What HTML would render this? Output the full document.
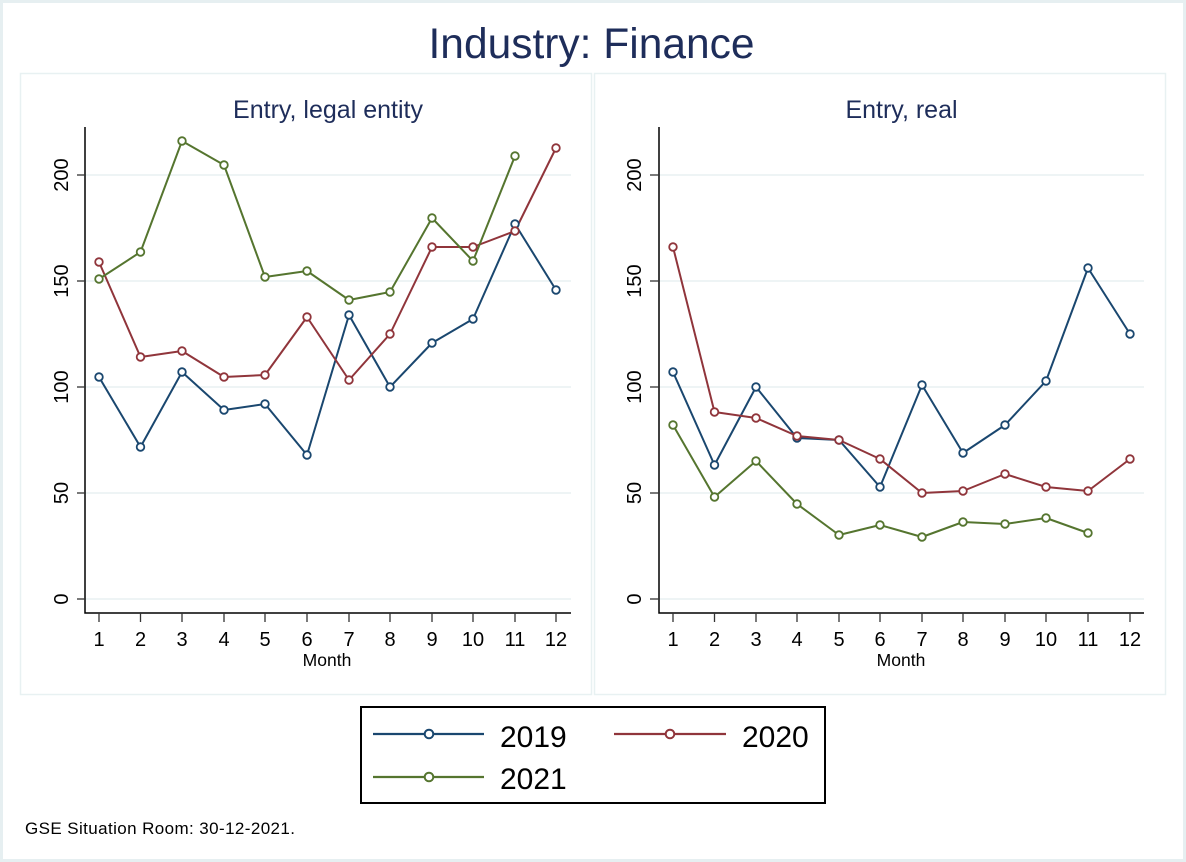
<!DOCTYPE html>
<html><head><meta charset="utf-8"><style>
html,body{margin:0;padding:0;background:#fff;}
svg{display:block;font-family:"Liberation Sans",Arial,sans-serif;}
</style></head><body>
<svg width="1186" height="862" viewBox="0 0 1186 862" xmlns="http://www.w3.org/2000/svg">
<rect x="0" y="0" width="1186" height="862" fill="#ffffff"/>
<rect x="1.5" y="1.5" width="1183" height="859" fill="none" stroke="#e6eff1" stroke-width="3"/>
<text x="591.5" y="58" font-size="42.5" fill="#1e2d5a" text-anchor="middle">Industry: Finance</text>

<!-- panels -->
<rect x="20.5" y="73.5" width="571" height="621" fill="#fff" stroke="#e8f1f2" stroke-width="1.5"/>
<rect x="594.5" y="73.5" width="571" height="621" fill="#fff" stroke="#e8f1f2" stroke-width="1.5"/>

<text x="328" y="118" font-size="25" fill="#1e2d5a" text-anchor="middle">Entry, legal entity</text>
<text x="901.5" y="118" font-size="25" fill="#1e2d5a" text-anchor="middle">Entry, real</text>

<!-- gridlines -->
<g stroke="#e8f1f2" stroke-width="1.6">
<line x1="85" y1="175" x2="571" y2="175"/><line x1="85" y1="281" x2="571" y2="281"/><line x1="85" y1="387" x2="571" y2="387"/><line x1="85" y1="493" x2="571" y2="493"/><line x1="85" y1="599" x2="571" y2="599"/>
<line x1="659" y1="175" x2="1144" y2="175"/><line x1="659" y1="281" x2="1144" y2="281"/><line x1="659" y1="387" x2="1144" y2="387"/><line x1="659" y1="493" x2="1144" y2="493"/><line x1="659" y1="599" x2="1144" y2="599"/>
</g>

<!-- axes -->
<g stroke="#000" stroke-width="1.5" fill="none">
<path d="M85 127 V613 H571"/>
<path d="M659 127 V613 H1144"/>
</g>
<g stroke="#333" stroke-width="1.3">
<line x1="77" y1="175" x2="85" y2="175"/><line x1="77" y1="281" x2="85" y2="281"/><line x1="77" y1="387" x2="85" y2="387"/><line x1="77" y1="493" x2="85" y2="493"/><line x1="77" y1="599" x2="85" y2="599"/>
<line x1="650" y1="175" x2="659" y2="175"/><line x1="650" y1="281" x2="659" y2="281"/><line x1="650" y1="387" x2="659" y2="387"/><line x1="650" y1="493" x2="659" y2="493"/><line x1="650" y1="599" x2="659" y2="599"/>
<line x1="99" y1="613" x2="99" y2="622"/><line x1="140.5" y1="613" x2="140.5" y2="622"/><line x1="182" y1="613" x2="182" y2="622"/><line x1="224" y1="613" x2="224" y2="622"/><line x1="265" y1="613" x2="265" y2="622"/><line x1="307" y1="613" x2="307" y2="622"/><line x1="349" y1="613" x2="349" y2="622"/><line x1="390" y1="613" x2="390" y2="622"/><line x1="432" y1="613" x2="432" y2="622"/><line x1="473" y1="613" x2="473" y2="622"/><line x1="515" y1="613" x2="515" y2="622"/><line x1="556" y1="613" x2="556" y2="622"/>
<line x1="673" y1="613" x2="673" y2="622"/><line x1="714.5" y1="613" x2="714.5" y2="622"/><line x1="756" y1="613" x2="756" y2="622"/><line x1="797" y1="613" x2="797" y2="622"/><line x1="839" y1="613" x2="839" y2="622"/><line x1="880" y1="613" x2="880" y2="622"/><line x1="922" y1="613" x2="922" y2="622"/><line x1="963" y1="613" x2="963" y2="622"/><line x1="1005" y1="613" x2="1005" y2="622"/><line x1="1046" y1="613" x2="1046" y2="622"/><line x1="1088" y1="613" x2="1088" y2="622"/><line x1="1130" y1="613" x2="1130" y2="622"/>
</g>

<!-- y tick labels -->
<g font-size="20" fill="#000" text-anchor="middle">
<text x="68" y="175" transform="rotate(-90 68 175)">200</text>
<text x="68" y="281" transform="rotate(-90 68 281)">150</text>
<text x="68" y="387" transform="rotate(-90 68 387)">100</text>
<text x="68" y="493" transform="rotate(-90 68 493)">50</text>
<text x="68" y="599" transform="rotate(-90 68 599)">0</text>
<text x="641" y="175" transform="rotate(-90 641 175)">200</text>
<text x="641" y="281" transform="rotate(-90 641 281)">150</text>
<text x="641" y="387" transform="rotate(-90 641 387)">100</text>
<text x="641" y="493" transform="rotate(-90 641 493)">50</text>
<text x="641" y="599" transform="rotate(-90 641 599)">0</text>
</g>
<!-- x tick labels -->
<g font-size="20" fill="#000" text-anchor="middle">
<text x="99" y="646">1</text><text x="140.5" y="646">2</text><text x="182" y="646">3</text><text x="224" y="646">4</text><text x="265" y="646">5</text><text x="307" y="646">6</text><text x="349" y="646">7</text><text x="390" y="646">8</text><text x="432" y="646">9</text><text x="473" y="646">10</text><text x="515" y="646">11</text><text x="556" y="646">12</text>
<text x="673" y="646">1</text><text x="714.5" y="646">2</text><text x="756" y="646">3</text><text x="797" y="646">4</text><text x="839" y="646">5</text><text x="880" y="646">6</text><text x="922" y="646">7</text><text x="963" y="646">8</text><text x="1005" y="646">9</text><text x="1046" y="646">10</text><text x="1088" y="646">11</text><text x="1130" y="646">12</text>
</g>
<text x="327" y="666" font-size="17.5" fill="#000" text-anchor="middle">Month</text>
<text x="901" y="666" font-size="17.5" fill="#000" text-anchor="middle">Month</text>

<!-- series: left -->
<g fill="none" stroke-width="2" stroke-linejoin="round">
<polyline stroke="#1a476f" points="99,377 140.5,447 182,372 224,410 265,404 307,455 349,315 390,387 432,343 473,319 515,224 556,290"/>
<polyline stroke="#90353b" points="99,262 140.5,357 182,351 224,377 265,375 307,317 349,380 390,334 432,247 473,247 515,231 556,148"/>
<polyline stroke="#55752f" points="99,279 140.5,252 182,141 224,165 265,277 307,271 349,300 390,292 432,218 473,261 515,156"/>
<polyline stroke="#1a476f" points="673,372 714.5,465 756,387 797,438 839,440 880,487 922,385 963,453 1005,425 1046,381 1088,268 1130,334"/>
<polyline stroke="#90353b" points="673,247 714.5,412 756,418 797,436 839,440 880,459 922,493 963,491 1005,474 1046,487 1088,491 1130,459"/>
<polyline stroke="#55752f" points="673,425 714.5,497 756,461 797,504 839,535 880,525 922,537 963,522 1005,524 1046,518 1088,533"/>
</g>
<g fill="#fff" stroke-width="1.8">
<g stroke="#1a476f">
<circle cx="99" cy="377" r="3.8"/><circle cx="140.5" cy="447" r="3.8"/><circle cx="182" cy="372" r="3.8"/><circle cx="224" cy="410" r="3.8"/><circle cx="265" cy="404" r="3.8"/><circle cx="307" cy="455" r="3.8"/><circle cx="349" cy="315" r="3.8"/><circle cx="390" cy="387" r="3.8"/><circle cx="432" cy="343" r="3.8"/><circle cx="473" cy="319" r="3.8"/><circle cx="515" cy="224" r="3.8"/><circle cx="556" cy="290" r="3.8"/>
<circle cx="673" cy="372" r="3.8"/><circle cx="714.5" cy="465" r="3.8"/><circle cx="756" cy="387" r="3.8"/><circle cx="797" cy="438" r="3.8"/><circle cx="839" cy="440" r="3.8"/><circle cx="880" cy="487" r="3.8"/><circle cx="922" cy="385" r="3.8"/><circle cx="963" cy="453" r="3.8"/><circle cx="1005" cy="425" r="3.8"/><circle cx="1046" cy="381" r="3.8"/><circle cx="1088" cy="268" r="3.8"/><circle cx="1130" cy="334" r="3.8"/>
</g>
<g stroke="#90353b">
<circle cx="99" cy="262" r="3.8"/><circle cx="140.5" cy="357" r="3.8"/><circle cx="182" cy="351" r="3.8"/><circle cx="224" cy="377" r="3.8"/><circle cx="265" cy="375" r="3.8"/><circle cx="307" cy="317" r="3.8"/><circle cx="349" cy="380" r="3.8"/><circle cx="390" cy="334" r="3.8"/><circle cx="432" cy="247" r="3.8"/><circle cx="473" cy="247" r="3.8"/><circle cx="515" cy="231" r="3.8"/><circle cx="556" cy="148" r="3.8"/>
<circle cx="673" cy="247" r="3.8"/><circle cx="714.5" cy="412" r="3.8"/><circle cx="756" cy="418" r="3.8"/><circle cx="797" cy="436" r="3.8"/><circle cx="839" cy="440" r="3.8"/><circle cx="880" cy="459" r="3.8"/><circle cx="922" cy="493" r="3.8"/><circle cx="963" cy="491" r="3.8"/><circle cx="1005" cy="474" r="3.8"/><circle cx="1046" cy="487" r="3.8"/><circle cx="1088" cy="491" r="3.8"/><circle cx="1130" cy="459" r="3.8"/>
</g>
<g stroke="#55752f">
<circle cx="99" cy="279" r="3.8"/><circle cx="140.5" cy="252" r="3.8"/><circle cx="182" cy="141" r="3.8"/><circle cx="224" cy="165" r="3.8"/><circle cx="265" cy="277" r="3.8"/><circle cx="307" cy="271" r="3.8"/><circle cx="349" cy="300" r="3.8"/><circle cx="390" cy="292" r="3.8"/><circle cx="432" cy="218" r="3.8"/><circle cx="473" cy="261" r="3.8"/><circle cx="515" cy="156" r="3.8"/>
<circle cx="673" cy="425" r="3.8"/><circle cx="714.5" cy="497" r="3.8"/><circle cx="756" cy="461" r="3.8"/><circle cx="797" cy="504" r="3.8"/><circle cx="839" cy="535" r="3.8"/><circle cx="880" cy="525" r="3.8"/><circle cx="922" cy="537" r="3.8"/><circle cx="963" cy="522" r="3.8"/><circle cx="1005" cy="524" r="3.8"/><circle cx="1046" cy="518" r="3.8"/><circle cx="1088" cy="533" r="3.8"/>
</g>
</g>

<!-- legend -->
<rect x="361" y="707" width="464" height="96" fill="#fff" stroke="#000" stroke-width="2"/>
<g stroke-width="2.2">
<line x1="373" y1="734" x2="484" y2="734" stroke="#1a476f"/>
<line x1="614" y1="734" x2="726" y2="734" stroke="#90353b"/>
<line x1="373" y1="777" x2="484" y2="777" stroke="#55752f"/>
</g>
<g fill="#fff" stroke-width="2">
<circle cx="429" cy="734" r="4.3" stroke="#1a476f"/>
<circle cx="670" cy="734" r="4.3" stroke="#90353b"/>
<circle cx="429" cy="777" r="4.3" stroke="#55752f"/>
</g>
<g font-size="30" fill="#000">
<text x="500" y="747">2019</text>
<text x="742" y="747">2020</text>
<text x="500" y="789">2021</text>
</g>

<text x="25" y="834" font-size="17" letter-spacing="0.4" fill="#000">GSE Situation Room: 30-12-2021.</text>
</svg>
</body></html>
